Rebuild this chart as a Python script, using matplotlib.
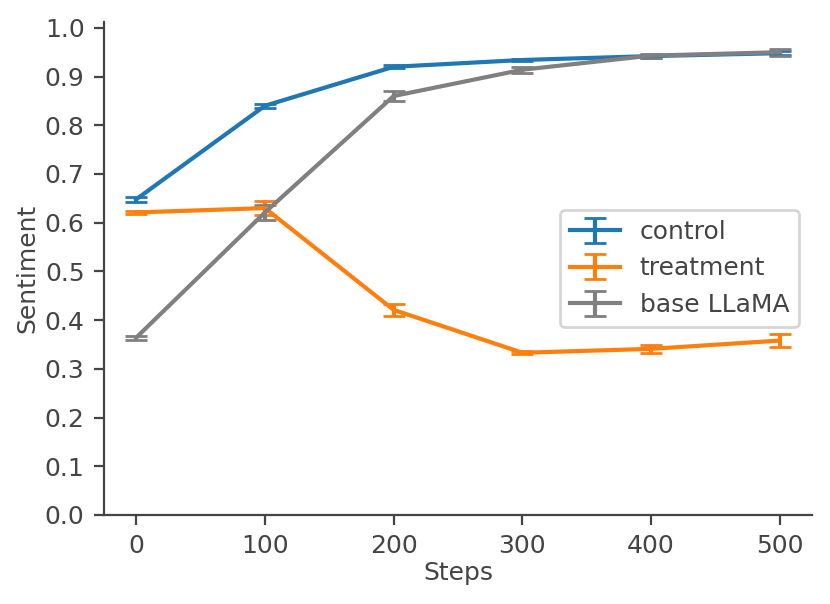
import matplotlib
matplotlib.use("Agg")
import matplotlib.pyplot as plt
import numpy as np

steps = [0, 100, 200, 300, 400, 500]
control = [0.648, 0.840, 0.920, 0.934, 0.942, 0.948]
control_err = [0.005, 0.004, 0.003, 0.003, 0.003, 0.004]
treatment = [0.621, 0.630, 0.421, 0.333, 0.341, 0.358]
treatment_err = [0.004, 0.014, 0.012, 0.003, 0.008, 0.013]
base = [0.364, 0.621, 0.860, 0.914, 0.943, 0.950]
base_err = [0.004, 0.015, 0.011, 0.006, 0.004, 0.007]

txt = "#444444"
plt.rcParams.update({
    "font.family": "DejaVu Sans",
    "font.size": 9,
    "text.color": txt,
    "axes.labelcolor": txt,
    "xtick.color": txt,
    "ytick.color": txt,
    "axes.edgecolor": txt,
})

fig = plt.figure(figsize=(4.15, 3.02), dpi=200)
ax = fig.add_axes([0.1253, 0.1474, 0.853, 0.8162])

ax.errorbar(steps, control, yerr=control_err, color="#1f77b4", capsize=4, label="control", lw=1.5)
ax.errorbar(steps, treatment, yerr=treatment_err, color="#ff7f0e", capsize=4, label="treatment", lw=1.5)
ax.errorbar(steps, base, yerr=base_err, color="gray", capsize=4, label="base LLaMA", lw=1.5)

ax.set_ylim(0, 1.012)
ax.set_xlim(-25, 525)
ax.set_yticks(np.arange(0, 1.01, 0.1))
ax.set_xticks(steps)
ax.set_xlabel("Steps", labelpad=1)
ax.set_ylabel("Sentiment", labelpad=2)
ax.spines["top"].set_visible(False)
ax.spines["right"].set_visible(False)
ax.legend(loc="center right", fontsize=9)

fig.savefig("out.png", dpi=200)
